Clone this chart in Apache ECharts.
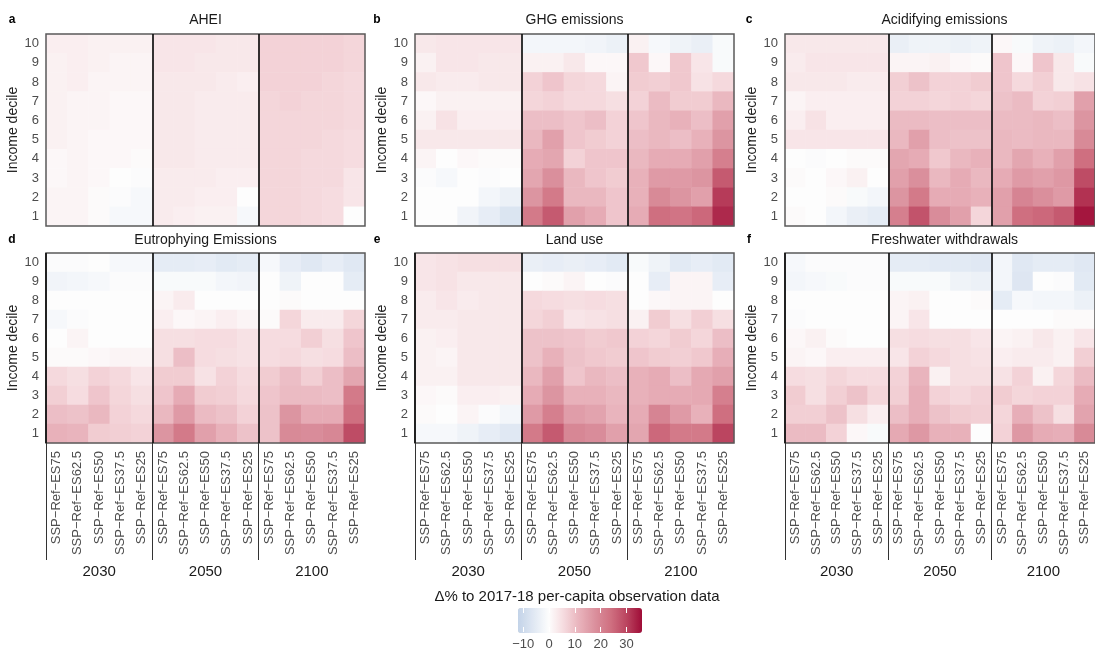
<!DOCTYPE html>
<html><head><meta charset="utf-8">
<script src="https://cdn.jsdelivr.net/npm/echarts@6/dist/echarts.min.js"></script>
<style>html,body{margin:0;padding:0;background:#fff}#c{width:1095px;height:651px}</style>
</head><body><div id="c"></div>
<script>
// ---------- data ----------
const deciles = ['1','2','3','4','5','6','7','8','9','10'];
const scenarios = ['SSP\u2212Ref\u2212ES75','SSP\u2212Ref\u2212ES62.5','SSP\u2212Ref\u2212ES50','SSP\u2212Ref\u2212ES37.5','SSP\u2212Ref\u2212ES25'];
const years = ['2030','2050','2100'];
const panelTitles = ['AHEI','GHG emissions','Acidifying emissions','Eutrophying Emissions','Land use','Freshwater withdrawals'];
const panelLetters = ['a','b','c','d','e','f'];
const colorTicks = [-10, 0, 10, 20, 30];
const colorTitle = '\u0394% to 2017-18 per-capita observation data';

// rows: decile 10 (top) ... decile 1 (bottom); columns: 2030 x5 | 2050 x5 | 2100 x5
const ahei = [
 [2.5,2.5,2,2,2, 4,4,4,3.5,3.5, 7,7,7,7,6.5],
 [2,2.5,2,1.5,1.5, 4,4,3.5,3.5,3.5, 7,7,7,7,6.5],
 [2,2.5,1.5,1.5,1.5, 3.5,3.5,3.5,3,2.5, 7,7,7,6.5,6],
 [2,1.5,1.5,1,1, 3.5,3.5,3,3,3, 6.5,7,6.5,6.5,6],
 [2,1.5,1.5,1,1, 3.5,3.5,3,3,3, 6.5,6.5,6.5,6.5,6],
 [2,1.5,1,1,1, 3.5,3.5,3,3,3, 6.5,6.5,6.5,6,5.5],
 [1,1.5,1,1,0.5, 3.5,3.5,3,3,3, 6.5,6.5,6,6,5.5],
 [1,1.5,1,0,-0.5, 3,3,3,2.5,2.5, 6.5,6.5,6,6,4],
 [1.5,1.5,0.5,-0.5,-1.5, 3,3,2.5,2.5,0, 6.5,6.5,6,5.5,4],
 [1.5,1.5,0.5,-1.5,-1.5, 3,2.5,2,2,-1.5, 6.5,6.5,6,5.5,0]
];
const ghg = [
 [3.5,4,4,4,4, -2,-2,-2,-2.5,-3.5, 2,-1.5,-3,-4,-1],
 [2,4,4,3.5,3.5, 2,2,3.5,1,1, 8.5,1,8.5,4,-1],
 [3.5,3,3,3.5,3.5, 7,9,6.5,6,1.5, 8,7.5,8.5,4.5,6],
 [1,2,2,2,2, 6.5,7,6,6,5, 7,10.5,8,8,11],
 [2,4.5,2.5,2.5,2.5, 10,10,9,10,7, 9,11,12,10,15],
 [3.5,3.5,3.5,3.5,3.5, 11,15,9,8,7, 10,11,10,12,17],
 [1.5,0,1,0.5,0.5, 13,14,7,9,9, 11,13,13,15,21],
 [-0.5,-1.5,0,-0.5,0, 14,18,11,9,8, 12,16,16,17,27],
 [0,0,0,-2,-3.5, 17,22,11,11,9, 12,19,17,15,31],
 [0,0,-2.5,-4.5,-7, 22,27,15,13,9, 13,24,23,25,33]
];
const acid = [
 [3.5,3.5,3.5,3.5,3.5, -4,-3,-3,-3.5,-3, 1,-1,-3,-3.5,-2],
 [3,4,4,4,4, 1.5,1.5,2,1,0.5, 9,1,9,3.5,-1],
 [3.5,3.5,3.5,3,3, 7.5,9.5,7,7,8, 9,6,7.5,3.5,4.5],
 [1.5,2.5,2.5,2.5,2.5, 7,7,6.5,7,6.5, 9.5,10.5,7,7.5,15],
 [2.5,4.5,2.5,2.5,2.5, 10.5,10.5,10,10,10, 10.5,10.5,11,10,17],
 [4,4,4,4,4, 11,15,10,9.5,9.5, 11,10.5,11,11,19],
 [0,-0.5,0,0.5,0.5, 14,13,8.5,11,12, 11,14,12,15,24],
 [0.5,0,1,2,0, 15,18,11,13,11, 13,16,15,16.5,29],
 [0,0,0.5,-1,-2, 17,22,13,13,12, 15,20,18,16,32],
 [0.5,0,-2,-4,-5, 21,28,18.5,15,6.5, 15,24,25,27,35]
];
const eutro = [
 [-0.5,-0.5,0,-1.5,-1.5, -5,-5,-4.5,-5.5,-5, -1.5,-4.5,-6,-4.5,-6],
 [-2.5,-2,-1.5,-0.5,-0.5, -1,-1,-1,-2,-2.5, 0,-3,0,0,-5],
 [0,0,0,0,0, 1.5,3,0,0,0, 0,0.5,0,0,0],
 [-1.5,-0.5,0,0,0, 2.5,1,1.5,2.5,1.5, 0.5,6.5,3,3,6.5],
 [0,1.5,0,0,0, 5,5,5.5,5.5,4.5, 5.5,5.5,7.5,5,9],
 [0.5,0.5,1,1.5,1.5, 5,10,5.5,5,4.5, 5.5,6,5,5.5,10],
 [6,5,7,6,4, 8,8,4.5,7,5.5, 8,10,7.5,10,14],
 [7.5,5.5,9,6.5,5, 9,13,8,7.5,6, 9,10.5,10.5,10,22],
 [10,9.5,11,7,6, 11,16,10.5,9.5,7, 9.5,17,13,13,24],
 [12,11.5,8,7.5,7, 17,22,15,12,9.5, 9.5,19,18.5,19.5,29]
];
const land = [
 [4,4.5,5,5,5, -4,-4.5,-4,-4.5,-5.5, -1,-3,-5.5,-4.5,-5.5],
 [4,4.5,3.5,3.5,3.5, 0,0.5,1.5,0,-0.5, 0,-4.5,1.5,1.5,-4.5],
 [3,4,3,3.5,3.5, 6,5.5,5,5.5,5, 0,1,1.5,1.5,0],
 [3,3,3.5,3.5,3.5, 6.5,7.5,4,4.5,5, 2,8,5,7.5,5],
 [2,2.5,3.5,3.5,3.5, 9.5,9.5,9,8,8.5, 7,6.5,8,6.5,10],
 [2,1.5,3.5,3.5,3.5, 9.5,12,9.5,8.5,8, 9,8,7.5,8.5,12.5],
 [2,2,3.5,3.5,3.5, 11,15,9,11,10, 12,13,10,13.5,15],
 [1,0.5,2.5,2.5,2, 13,17,12,12,11, 12,13,13,13.5,21],
 [0.5,0,1.5,-0.5,-2, 16,21,15.5,14.5,11.5, 13,20,16,12,24],
 [-1.5,-1.5,-3,-4.5,-6, 22,27,19.5,18.5,15, 14,25,22,22,30]
];
const water = [
 [-1.5,-0.5,-0.5,-0.5,-0.5, -5,-5,-5.5,-5.5,-6, -2,-6,-5,-5,-6],
 [-2,-1.5,-1,-0.5,-0.5, -1,-1,-1,-3,-3.5, -2,-6.5,0,-0.5,-5.5],
 [0,0,0,0,0, 1.5,2,0,0,0.5, -5,-1.5,-2,-2,-3.5],
 [-0.5,0,0,0,0, 1.5,4,0,0,0, 0,0,0,0.5,0.5],
 [1,2,0.5,0,0, 5,5.5,5,5,4, 1.5,2,3.5,2,4],
 [1.5,1,2.5,2.5,2.5, 4,7,6,5,4.5, 2.5,3,3,2,7.5],
 [5.5,5,6.5,5.5,5.5, 7,11.5,2,5,5, 4.5,7,2,6.5,10.5],
 [8,5,7.5,9.5,6.5, 7.5,12.5,7,6,7, 8,6.5,7,7,13],
 [7.5,7.5,9.5,5,2.5, 10,12.5,9.5,8,7.5, 6.5,12.5,9.5,5,14.5],
 [10.5,10.5,7,1,-1, 13.5,16.5,12,12,0, 7,16.5,13,12.5,19]
];
const panelData = [ahei, ghg, acid, eutro, land, water];

// ---------- layout / style ----------
const FONT = '"Liberation Sans", Arial, Helvetica, sans-serif';
const xCats = [];
years.forEach(() => scenarios.forEach(s => xCats.push(s)));
const lefts = [46, 415, 785];
const tops = [34, 253];
const heights = [192, 190];
const W = 319;
const letterX = [12, 377, 749];
const titleY = [20, 240];

const grid = [], xAxis = [], yAxis = [], series = [], graphic = [];
panelData.forEach((rows, i) => {
  const r = Math.floor(i / 3), c = i % 3;
  const bottomRow = r === 1;
  grid.push({left: lefts[c], top: tops[r], width: W, height: heights[r], show: true, z: 6,
    backgroundColor: 'transparent', borderColor: '#5a5a5a', borderWidth: 1.5});
  const xi = xAxis.length;
  xAxis.push({type: 'category', gridIndex: i, position: 'bottom', data: xCats,
    axisLine: {show: false}, axisTick: {show: false}, splitLine: {show: false},
    axisLabel: {show: bottomRow, interval: 0, rotate: 90, margin: 8, fontSize: 13, color: '#4d4d4d', fontFamily: FONT}});
  xAxis.push({type: 'value', gridIndex: i, position: 'bottom', min: 0, max: 15, interval: 5, z: 7,
    axisLine: {show: false, onZero: false}, axisLabel: {show: false},
    axisTick: {show: bottomRow, customValues: bottomRow ? [0, 5, 10] : [5, 10], length: 117, lineStyle: {color: '#333', width: 1}},
    splitLine: {show: true, lineStyle: {color: '#111', width: 1.7}}});
  if (bottomRow) {
    xAxis.push({type: 'category', gridIndex: i, position: 'bottom', data: years,
      axisLine: {show: false}, axisTick: {show: false}, splitLine: {show: false},
      axisLabel: {margin: 121, fontSize: 15, color: '#1a1a1a', fontFamily: FONT}});
  }
  yAxis.push({type: 'category', gridIndex: i, data: deciles,
    name: 'Income decile', nameLocation: 'middle', nameGap: 25,
    nameTextStyle: {fontSize: 14, color: '#222', fontFamily: FONT},
    axisLine: {show: false}, axisTick: {show: false}, splitLine: {show: false},
    axisLabel: {margin: 7, fontSize: 13, color: '#4d4d4d', fontFamily: FONT}});
  const d = [];
  rows.forEach((row, k) => row.forEach((v, j) => d.push([j, deciles.length - 1 - k, v])));
  series.push({type: 'heatmap', xAxisIndex: xi, yAxisIndex: i, data: d,
    itemStyle: {borderWidth: 0}, emphasis: {disabled: true}, progressive: 0});
  graphic.push({type: 'text', x: letterX[c], y: titleY[r],
    style: {text: panelLetters[i], fontSize: 12, fontWeight: 'bold', fontFamily: FONT, fill: '#000', align: 'center', verticalAlign: 'middle'}});
  graphic.push({type: 'text', x: lefts[c] + W / 2, y: titleY[r],
    style: {text: panelTitles[i], fontSize: 14, fontFamily: FONT, fill: '#1a1a1a', align: 'center', verticalAlign: 'middle'}});
});

// colour bar axes
const cbLeft = 518, cbTop = 608, cbLen = 124, cbThick = 25;
grid.push({left: cbLeft, top: cbTop, width: cbLen, height: cbThick, show: false});
const fmt = v => v < 0 ? '\u2212' + Math.abs(v) : String(v);
xAxis.push({type: 'value', gridIndex: 6, position: 'bottom', min: -12, max: 36, z: 10,
  axisLine: {show: false, onZero: false}, splitLine: {show: false},
  axisTick: {show: true, inside: true, length: 5, customValues: colorTicks, lineStyle: {color: '#fff', width: 1}},
  axisLabel: {customValues: colorTicks, formatter: fmt, margin: 6, fontSize: 13, color: '#4d4d4d', fontFamily: FONT}});
xAxis.push({type: 'value', gridIndex: 6, position: 'top', min: -12, max: 36, z: 10,
  axisLine: {show: false, onZero: false}, splitLine: {show: false}, axisLabel: {show: false},
  axisTick: {show: true, inside: true, length: 5, customValues: colorTicks, lineStyle: {color: '#fff', width: 1}}});
yAxis.push({type: 'value', gridIndex: 6, min: 0, max: 1, show: false});

graphic.push({type: 'text', x: 577, y: 597,
  style: {text: colorTitle, fontSize: 15, fontFamily: FONT, fill: '#1a1a1a', align: 'center', verticalAlign: 'middle'}});

const option = {
  backgroundColor: '#fff',
  animation: false,
  grid, xAxis, yAxis, series, graphic,
  visualMap: {
    type: 'continuous', min: -12, max: 36, seriesIndex: [0,1,2,3,4,5],
    orient: 'horizontal', left: cbLeft, top: cbTop, padding: 0,
    itemWidth: cbThick, itemHeight: cbLen, calculable: false, hoverLink: false,
    inRange: {color: ['#c3d3e8','#e0e8f3','#fdfdfd','#f5d9dd','#e8b1ba','#da8f9c','#cf6f80','#bb4560','#9f0c37']}
  }
};
const chart = echarts.init(document.getElementById('c'), null, {renderer: 'canvas'});
chart.setOption(option);
</script>
</body></html>
